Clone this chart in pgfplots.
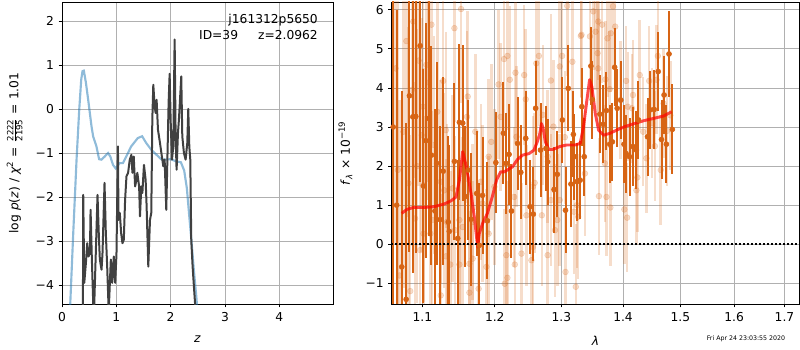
\documentclass[border=0pt]{standalone}
\usepackage{amsmath}
\usepackage{fontspec}
\setmainfont{DejaVu Sans}
\usepackage{pgfplots}
\usepackage{pgfplotstable}
\pgfplotsset{compat=1.18}

\definecolor{darkor}{RGB}{215,100,20}
\definecolor{mplblue}{RGB}{31,119,180}
\definecolor{pzgray}{RGB}{64,64,64}
\definecolor{gridgray}{RGB}{176,176,176}

\pgfplotstableread{
z lp
0.146 -4.6
0.207 -2.82
0.268 -1.15
0.317 -0.02
0.354 0.67
0.378 0.86
0.402 0.87
0.440 0.60
0.482 0.21
0.543 -0.39
0.573 -0.62
0.634 -0.85
0.683 -1.14
0.726 -1.15
0.787 -1.08
0.848 -1.00
0.890 -1.08
0.939 -1.27
0.988 -1.35
1.061 -1.23
1.122 -1.23
1.183 -1.08
1.274 -0.85
1.396 -0.66
1.476 -0.62
1.549 -0.77
1.640 -0.92
1.732 -1.03
1.823 -1.14
1.915 -1.15
2.006 -1.14
2.098 -1.19
2.189 -1.21
2.250 -1.40
2.299 -1.80
2.341 -2.40
2.384 -3.00
2.427 -3.65
2.476 -4.30
2.494 -4.60
}\bluetab

\pgfplotstableread{
z lp
0.385 -4.6
0.391 -1.95
0.410 -3.95
0.440 -3.50
0.465 -3.05
0.489 -3.35
0.514 -3.27
0.526 -2.29
0.550 -3.42
0.575 -4.42
0.590 -4.6
0.624 -3.20
0.654 -1.95
0.679 -2.90
0.697 -3.42
0.728 -3.65
0.746 -3.27
0.783 -1.68
0.807 -2.82
0.832 -3.58
0.860 -4.6
0.899 -3.42
0.924 -3.95
0.954 -3.35
0.979 -3.95
1.003 -3.30
1.030 -0.85
1.040 -2.52
1.064 -2.36
1.089 -2.82
1.113 -3.05
1.138 -2.97
1.162 -2.06
1.187 -1.53
1.217 -1.45
1.248 -1.15
1.278 -1.04
1.297 -1.45
1.321 -1.08
1.346 -1.76
1.370 -1.61
1.387 -1.45
1.420 -1.76
1.436 -2.44
1.460 -1.76
1.480 -1.91
1.509 -1.27
1.540 -1.61
1.558 -2.21
1.589 -3.58
1.620 -2.52
1.644 -2.36
1.663 -0.24
1.681 0.55
1.706 0.06
1.724 -0.09
1.742 0.21
1.767 -0.47
1.804 -0.77
1.847 -1.15
1.865 -1.30
1.890 -1.15
1.920 -2.29
1.939 -1.23
1.963 0.14
1.982 0.80
2.000 -0.24
2.025 -1.15
2.049 -0.85
2.074 1.58
2.092 -0.62
2.110 -1.38
2.135 -0.55
2.153 -0.24
2.196 0.74
2.215 -0.62
2.245 -1.00
2.276 -1.15
2.307 -0.77
2.325 0.00
2.344 -0.85
2.362 -1.15
2.380 -2.97
2.405 -3.58
2.429 -4.03
2.460 -4.6
}\blacktab

\pgfplotstableread{
l f e
1.112 5.62 3.0
1.1431 5.53 2.4
1.1523 6.02 2.4
1.1051 4.59 3.0
1.1083 4.14 3.0
1.1278 4.18 2.6
1.0861 3.95 4.0
1.1005 3.52 3.0
1.1199 3.39 2.8
1.1616 3.78 2.2
1.1606 3.26 2.2
1.0752 2.88 4.0
1.0991 2.79 3.0
1.1153 2.54 2.8
1.1315 2.92 2.5
1.1722 2.88 2.0
1.0817 1.56 4.0
1.1014 1.51 3.0
1.1245 1.60 2.6
1.1292 1.38 2.5
1.1407 1.43 2.4
1.1801 1.60 2.0
1.0904 0.66 3.5
1.113 0.62 2.8
1.1329 0.57 2.5
1.15 0.62 2.4
1.1546 0.44 2.3
1.1685 0.57 2.0
1.1824 1.04 2.0
1.1014 0.27 3.0
1.1106 0.27 2.8
1.144 0.36 2.4
1.097 -0.15 3.2
1.1315 -0.31 2.5
1.1375 -0.52 2.4
1.15 -0.52 2.3
1.1639 -0.50 2.1
1.1685 -0.37 2.0
1.1769 -1.14 2.0
1.1245 -1.31 2.6
1.1639 -1.24 2.1
1.065 4.5 4.5
1.070 -0.8 4.5
1.079 5.2 4.5
1.084 -1.2 4.0
1.093 2.0 3.5
1.068 1.9 4.5
1.088 5.7 4.0
1.095 4.7 3.2
1.2134 4.74 1.9
1.2183 4.82 1.9
1.2218 4.21 1.9
1.2302 4.39 1.8
1.2431 4.33 1.8
1.2455 3.71 1.8
1.2614 4.63 1.8
1.2653 4.82 1.8
1.2713 3.31 1.8
1.2837 4.19 1.7
1.2876 3.01 1.7
1.2975 4.55 1.7
1.3011 4.82 1.7
1.3054 2.74 1.7
1.3173 4.67 1.7
1.3092 6.1 1.8
1.3308 5.33 1.6
1.2054 4.09 1.9
1.1912 2.24 2.0
1.2084 3.26 1.9
1.1949 2.62 2.0
1.1995 1.47 2.0
1.2317 2.75 1.8
1.2282 1.21 1.8
1.2465 0.74 1.8
1.2564 1.47 1.8
1.2698 0.74 1.8
1.2589 1.57 1.8
1.2787 2.24 1.7
1.2901 0.36 1.7
1.2936 0.62 1.7
1.2837 1.13 1.7
1.2975 1.13 1.7
1.32 0.83 1.6
1.3243 1.00 1.6
1.1912 0.27 2.0
1.2168 -0.28 1.9
1.2292 -0.52 1.8
1.2183 -0.86 1.9
1.2391 -0.24 1.8
1.2564 -0.07 1.8
1.2540 -0.41 1.8
1.2787 -0.28 1.7
1.3065 -0.71 1.6
1.3227 -1.09 1.6
1.1880 -0.58 2.0
1.2144 -1.01 1.9
1.3508 5.96 1.5
1.3546 5.44 1.5
1.3589 5.70 1.5
1.3654 5.62 1.5
1.3741 5.27 1.5
1.3795 5.40 1.5
1.387 5.57 1.5
1.3832 6.09 1.5
1.3319 5.36 1.6
1.3454 5.32 1.6
1.3578 4.89 1.5
1.3589 4.50 1.5
1.3708 4.22 1.5
1.3778 3.97 1.5
1.3957 3.69 1.5
1.4052 4.18 1.4
1.4081 3.52 1.4
1.4151 3.48 1.4
1.4285 4.33 1.4
1.4448 4.18 1.4
1.4576 4.21 1.4
1.4169 3.82 1.4
1.4343 2.88 1.4
1.4547 2.51 1.4
1.36 1.23 1.5
1.3724 1.21 1.5
1.3789 0.94 1.5
1.4023 0.89 1.4
1.407 0.68 1.4
1.4227 1.38 1.4
1.4244 1.71 1.4
1.3373 1.81 1.6
1.3697 2.07 1.5
1.3265 0.70 1.6
1.4599 4.82 1.4
1.47 3.6 1.4
1.476 2.9 1.4
1.465 1.9 1.4
1.482 3.3 1.4
1.44 2.2 1.4
1.45 3.1 1.4
}\lighttab

\pgfplotstableread{
l f e
1.062 3.0 5.0
1.0665 1.0 5.0
1.073 -0.58 4.5
1.0787 -1.41 4.5
1.083 3.8 4.0
1.0874 3.26 4.0
1.0913 3.27 3.5
1.097 5.08 3.5
1.1014 1.49 3.0
1.1046 2.65 3.0
1.1083 3.22 3.0
1.112 2.28 2.8
1.1167 0.85 2.6
1.119 2.07 2.6
1.1236 0.63 2.4
1.1278 1.87 2.4
1.1347 0.57 2.2
1.1361 0.33 2.2
1.1431 2.12 2.0
1.1477 0.15 2.0
1.15 3.12 2.0
1.1546 3.10 2.0
1.1583 1.22 1.8
1.1625 1.90 1.8
1.1662 0.64 1.7
1.1741 1.30 1.6
1.1778 -0.03 1.6
1.1824 1.25 1.5
1.1894 0.60 1.5
1.2015 2.09 1.3
1.2124 2.84 1.3
1.2163 2.07 1.3
1.2208 2.30 1.3
1.2243 0.85 1.2
1.2332 2.58 1.2
1.2381 1.84 1.2
1.2455 2.71 1.2
1.252 0.96 1.2
1.2569 0.77 1.2
1.2604 3.48 1.2
1.2678 2.41 1.2
1.2762 2.45 1.1
1.2787 2.11 1.1
1.2886 1.40 1.1
1.2936 1.79 1.1
1.3016 3.18 1.1
1.3065 0.87 1.1
1.3108 3.99 1.1
1.3151 1.54 1.1
1.3189 2.81 1.1
1.3205 2.24 1.1
1.3243 1.60 1.0
1.3297 1.64 1.0
1.3324 3.52 1.0
1.3362 2.24 1.0
1.347 4.56 1.0
1.3492 3.70 1.0
1.3616 3.33 1.0
1.367 3.07 1.0
1.3724 3.42 1.0
1.3778 2.56 1.0
1.3822 2.62 1.0
1.386 4.53 1.0
1.3903 3.48 1.0
1.3962 3.69 1.0
1.4017 2.56 1.0
1.4052 2.32 1.0
1.411 2.24 1.0
1.4169 2.50 1.0
1.4227 2.41 1.0
1.4262 3.18 1.0
1.4419 2.75 1.0
1.4465 3.44 1.0
1.4535 3.45 1.0
1.4605 4.42 1.0
1.4663 2.68 1.0
1.4709 3.82 1.0
1.475 2.56 1.0
1.4797 4.87 1.1
1.4855 2.94 1.15
}\darktab

\pgfplotstableread{
l f
1.073 0.79
1.0796 0.89
1.0883 0.94
1.1014 0.94
1.1153 0.96
1.1292 1.03
1.1384 1.11
1.1454 1.21
1.15 1.64
1.1546 2.37
1.1569 2.20
1.1606 1.90
1.1662 1.30
1.1708 0.70
1.1755 -0.07
1.1778 0.27
1.1824 0.53
1.1894 0.79
1.1963 1.21
1.2025 1.64
1.2084 1.85
1.2134 1.85
1.2183 1.90
1.2257 1.98
1.2332 2.17
1.2406 2.28
1.2505 2.32
1.2579 2.41
1.2629 2.62
1.2668 2.84
1.2693 3.09
1.2718 2.97
1.2752 2.62
1.2802 2.43
1.2876 2.43
1.2975 2.50
1.3081 2.54
1.3216 2.54
1.3297 2.58
1.3351 3.01
1.3405 3.69
1.3449 4.21
1.3486 4.03
1.3541 3.35
1.3595 2.92
1.3676 2.79
1.3784 2.84
1.3892 2.92
1.4029 3.01
1.4174 3.08
1.4349 3.16
1.4523 3.22
1.4698 3.28
1.4843 3.39
}\modeltab

\pgfplotsset{
  mystyle/.style={
    scale only axis,
    height=226.5pt,
    axis line style={line width=0.6pt},
    grid=major,
    grid style={color=gridgray, line width=0.6pt},
    tick align=outside,
    xtick pos=left, ytick pos=left,
    major tick length=2.6pt,
    every tick/.style={black, line width=0.6pt},
    tick label style={font=\fontsize{9.2}{11}\selectfont},
    label style={font=\fontsize{9.2}{11}\selectfont},
    xlabel shift=4pt,
    ylabel shift=3pt,
    /pgf/number format/assume math mode=true,
  }
}

\begin{document}
\begin{tikzpicture}
\path[use as bounding box] (0,0) rectangle (600pt,262.5pt);

\begin{axis}[mystyle,
  at={(46.5pt,34.5pt)}, anchor=south west,
  width=203.25pt,
  xmin=0, xmax=4.99, ymin=-4.43, ymax=2.43,
  xtick={0,1,2,3,4},
  ytick={-4,-3,-2,-1,0,1,2},
  yticklabels={−4,−3,−2,−1,0,1,2},
  xlabel={\textit{z}},
  ylabel={log \textit{p}(\textit{z}) / \textit{χ}$^{\text{2}}$ = $\frac{\text{2222}}{\text{2195}}$ = 1.01},
]
\addplot[mplblue, opacity=0.5, line width=1.6pt] table[x=z, y=lp] {\bluetab};
\addplot[pzgray, line width=1.5pt, line join=round] table[x=z, y=lp] {\blacktab};
\end{axis}

\begin{axis}[mystyle,
  at={(293.8pt,34.5pt)}, anchor=south west,
  width=305.5pt,
  xmode=log,
  xmin=1.0602, xmax=1.730, ymin=-1.53, ymax=6.2,
  xtick={1.1,1.2,1.3,1.4,1.5,1.6,1.7},
  xticklabels={1.1,1.2,1.3,1.4,1.5,1.6,1.7},
  minor xtick={},
  ytick={-1,0,1,2,3,4,5,6},
  yticklabels={−1,0,1,2,3,4,5,6},
  xlabel={\textit{λ}},
  ylabel={\textit{f}\textsubscript{\textit{λ}} × 10\textsuperscript{−19}},
]
\addplot[only marks, mark=*, darkor, mark size=2.2pt,
  mark options={draw=none, fill=darkor, opacity=0.22},
  error bars/.cd, y dir=both, y explicit, error mark=none,
  error bar style={line width=1.9pt, darkor, opacity=0.22}]
  table[x=l, y=f, y error=e] {\lighttab};
\addplot[only marks, mark=*, darkor, mark size=1.9pt,
  mark options={draw=none, fill=darkor},
  error bars/.cd, y dir=both, y explicit, error mark=none,
  error bar style={line width=1.5pt, darkor}]
  table[x=l, y=f, y error=e] {\darktab};
\addplot[red, opacity=0.7, line width=2.2pt, line join=round] table[x=l, y=f] {\modeltab};
\addplot[black, line width=1.2pt, dash pattern=on 1.4pt off 1.6pt] coordinates {(1.0,0) (1.8,0)};
\end{axis}

\node[anchor=east, font=\fontsize{9.2}{11}\selectfont, inner sep=0pt] at (238.5pt,247.5pt) {j161312p5650};
\node[anchor=east, font=\fontsize{9.2}{11}\selectfont, inner sep=0pt] at (238.5pt,236.2pt) {ID=39\hspace{15pt}z=2.0962};
\node[font=\fontsize{4.7}{5}\selectfont, inner sep=0pt] at (559.5pt,8.25pt) {Fri Apr 24 23:03:55 2020};
\end{tikzpicture}
\end{document}
